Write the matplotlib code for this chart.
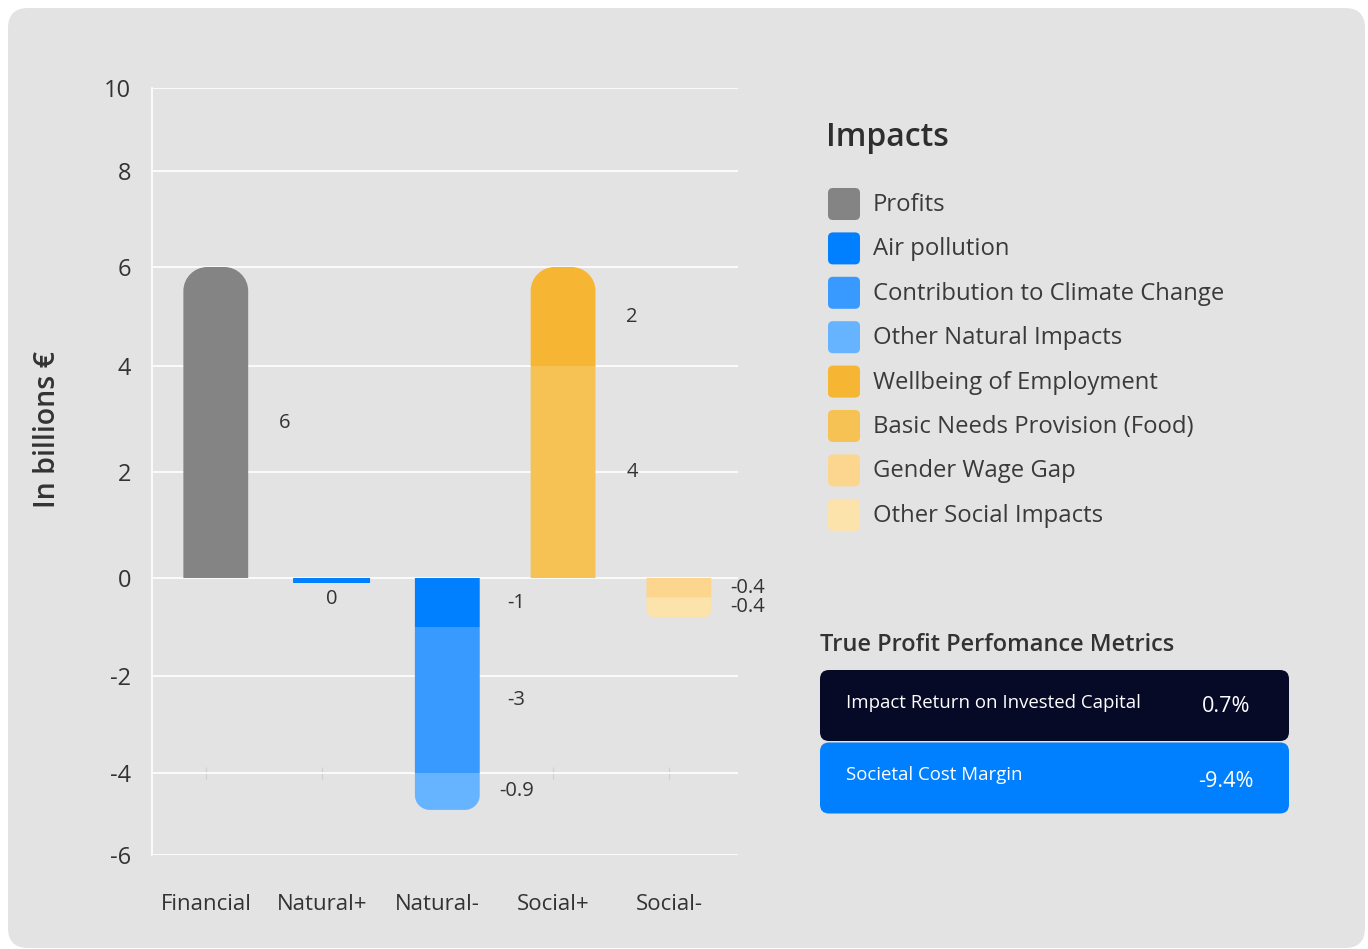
import numpy as np
import matplotlib
matplotlib.use('Agg')
import matplotlib.pyplot as plt
from matplotlib.patches import FancyBboxPatch, PathPatch
from matplotlib.path import Path
from matplotlib.transforms import IdentityTransform

plt.rcParams['font.family'] = ['Open Sans', 'DejaVu Sans']

nan = np.nan

categories = ['Financial', 'Natural+', 'Natural-', 'Social+', 'Social-']

# impact values per category (nan = impact not part of that category)
profits = [6, nan, nan, nan, nan]
air_pollution = [nan, 0, -1, nan, nan]
climate_change = [nan, nan, -3, nan, nan]
other_natural = [nan, nan, -0.9, nan, nan]
wellbeing_employment = [nan, nan, nan, 2, nan]
basic_needs_food = [nan, nan, nan, 4, nan]
gender_wage_gap = [nan, nan, nan, nan, -0.4]
other_social = [nan, nan, nan, nan, -0.4]

impact_names = ['Profits', 'Air pollution', 'Contribution to Climate Change',
                'Other Natural Impacts', 'Wellbeing of Employment',
                'Basic Needs Provision (Food)', 'Gender Wage Gap',
                'Other Social Impacts']
impact_values = [profits, air_pollution, climate_change, other_natural,
                 wellbeing_employment, basic_needs_food, gender_wage_gap,
                 other_social]
impact_colors = ['#848484', '#0080ff', '#3899ff', '#66b3ff',
                 '#f6b533', '#f6c254', '#fcd68e', '#fce2ab']

# order the segments are stacked in (from the zero line outwards)
stack_order = [0, 1, 2, 3, 5, 4, 6, 7]

metric_names = ['Impact Return on Invested Capital', 'Societal Cost Margin']
metric_values = [0.7, -9.4]
metric_colors = ['#070a27', '#0080ff']

W, H = 1368, 949
TXT = '#333333'

# uneven y scale: tick value -> height in px above the axis bottom
scale_vals = [-6, -4, -2, 0, 2, 4, 6, 8, 10]
scale_px = [0, 82, 179, 277, 383, 489, 588, 684, 767]


def fwd(v):
    return np.interp(v, scale_vals, scale_px)


def inv(h):
    return np.interp(h, scale_px, scale_vals)


def fig_xy(x, y):
    return x / W, 1 - y / H


def bar_path(x0, y0, x1, y1, r, end):
    k = 0.5523 * r
    if end == 'top':
        verts = [(x0, y0), (x1, y0), (x1, y1 - r),
                 (x1, y1 - r + k), (x1 - r + k, y1), (x1 - r, y1),
                 (x0 + r, y1),
                 (x0 + r - k, y1), (x0, y1 - r + k), (x0, y1 - r),
                 (x0, y0)]
        codes = [Path.MOVETO, Path.LINETO, Path.LINETO,
                 Path.CURVE4, Path.CURVE4, Path.CURVE4,
                 Path.LINETO,
                 Path.CURVE4, Path.CURVE4, Path.CURVE4,
                 Path.CLOSEPOLY]
    else:
        verts = [(x0, y1), (x0, y0 + r),
                 (x0, y0 + r - k), (x0 + r - k, y0), (x0 + r, y0),
                 (x1 - r, y0),
                 (x1 - r + k, y0), (x1, y0 + r - k), (x1, y0 + r),
                 (x1, y1), (x0, y1)]
        codes = [Path.MOVETO, Path.LINETO,
                 Path.CURVE4, Path.CURVE4, Path.CURVE4,
                 Path.LINETO,
                 Path.CURVE4, Path.CURVE4, Path.CURVE4,
                 Path.LINETO, Path.CLOSEPOLY]
    return Path(verts, codes)


fig = plt.figure(figsize=(W / 100, H / 100), dpi=100, facecolor='white')

# grey card behind everything
card = FancyBboxPatch((8, 1), 1357, 940, boxstyle='round,pad=0,rounding_size=20',
                      transform=IdentityTransform(), facecolor='#e3e3e3',
                      edgecolor='none', zorder=-10)
fig.add_artist(card)

ax = fig.add_axes([152 / W, (H - 855) / H, (738 - 152) / W, (855 - 88) / H])
ax.set_facecolor('none')
ax.set_yscale('function', functions=(fwd, inv))
ax.set_ylim(-6, 10)
ax.set_xlim(-0.466, 4.596)
ax.set_yticks(np.arange(-6, 11, 2))
ax.set_yticklabels([str(v) for v in range(-6, 11, 2)])
ax.set_xticks(range(len(categories)))
ax.set_xticklabels(categories)
ax.tick_params(axis='y', length=0, pad=15, labelsize=17, labelcolor=TXT)
ax.tick_params(axis='x', length=0, pad=28, labelsize=16, labelcolor=TXT)
ax.grid(axis='y', color='white', linewidth=1.2)
ax.set_axisbelow(True)
for side in ['top', 'right', 'bottom']:
    ax.spines[side].set_visible(False)
ax.spines['left'].set_color('white')
ax.spines['left'].set_linewidth(1.2)

# faint category ticks sitting on the -4 line
loc = (fwd(-4) - fwd(-6)) / (fwd(10) - fwd(-6))
sec = ax.secondary_xaxis(loc)
sec.set_xticks(range(len(categories)))
sec.tick_params(length=9, direction='inout', color='#cfcfcf', width=0.8,
                labelbottom=False, labeltop=False)
for sp in sec.spines.values():
    sp.set_visible(False)

bar_shift = 0.085
bar_widths = [0.56, 0.665, 0.56, 0.56, 0.56]
label_dx = 0.68
min_px = 5

to_px = ax.transData.transform
for i in range(len(categories)):
    segs = []
    pos, neg = 0.0, 0.0
    for s in stack_order:
        v = impact_values[s][i]
        if np.isnan(v):
            continue
        if v > 0:
            segs.append((s, v, pos, pos + v))
            pos += v
        else:
            segs.append((s, v, neg + v, neg))
            neg += v
    top_seg = max((g for g in segs if g[1] > 0), key=lambda g: g[3], default=None)
    bot_seg = min((g for g in segs if g[1] < 0), key=lambda g: g[2], default=None)
    xc = i + bar_shift
    w = bar_widths[i]
    for g in segs:
        s, v, lo, hi = g
        (x0, y0) = to_px((xc - w / 2, lo))
        (x1, y1) = to_px((xc + w / 2, hi))
        if y1 - y0 < min_px:
            y0 = y1 - min_px
        end = None
        if g is top_seg:
            end = 'top'
        elif g is bot_seg:
            end = 'bottom'
        r = min(24, 0.4 * (y1 - y0)) if end else 0
        path = bar_path(x0, y0, x1, y1, r, end or 'top')
        ax.add_artist(PathPatch(path, transform=IdentityTransform(),
                                facecolor=impact_colors[s], edgecolor='none',
                                zorder=3))
        txt = f'{v:g}'
        if v == 0:
            ax.annotate(txt, (xc, 0), xytext=(0, -15), textcoords='offset points',
                        ha='center', va='center', fontsize=14.5, color=TXT)
        else:
            ym = inv((fwd(lo) + fwd(hi)) / 2)
            ax.text(i + label_dx, ym, txt, ha='center', va='center',
                    fontsize=14.5, color=TXT)

fig.text(*fig_xy(48, 429), 'In billions €', rotation=90, ha='center',
         va='center', fontsize=20.5, fontweight='semibold', color=TXT)

# legend
fig.text(*fig_xy(826, 137), 'Impacts', ha='left', va='center', fontsize=23,
         fontweight='semibold', color='#2e2e2e')
for k, (name, col) in enumerate(zip(impact_names, impact_colors)):
    yc = 204 + 44.4 * k
    sq = FancyBboxPatch((828, H - yc - 16), 32, 32,
                        boxstyle='round,pad=0,rounding_size=5',
                        transform=IdentityTransform(), facecolor=col,
                        edgecolor='none')
    fig.add_artist(sq)
    fig.text(*fig_xy(873, yc + 1), name, ha='left', va='center', fontsize=17.2,
             color='#3a3a3a')

# metric boxes
fig.text(*fig_xy(820, 645), 'True Profit Perfomance Metrics', ha='left',
         va='center', fontsize=17, fontweight='semibold', color=TXT)
for k, (name, val, col) in enumerate(zip(metric_names, metric_values, metric_colors)):
    top = 670 + 72.5 * k
    box = FancyBboxPatch((820, H - top - 71), 469, 71,
                         boxstyle='round,pad=0,rounding_size=9',
                         transform=IdentityTransform(), facecolor=col,
                         edgecolor='none')
    fig.add_artist(box)
    fig.text(*fig_xy(846, top + 33), name, ha='left', va='center',
             fontsize=13.4, color='white')
    fig.text(*fig_xy(1226, top + 36 + 3 * k), f'{val:g}%', ha='center',
             va='center', fontsize=15.6, color='white')

fig.savefig('out.png', dpi=100, facecolor='white')
